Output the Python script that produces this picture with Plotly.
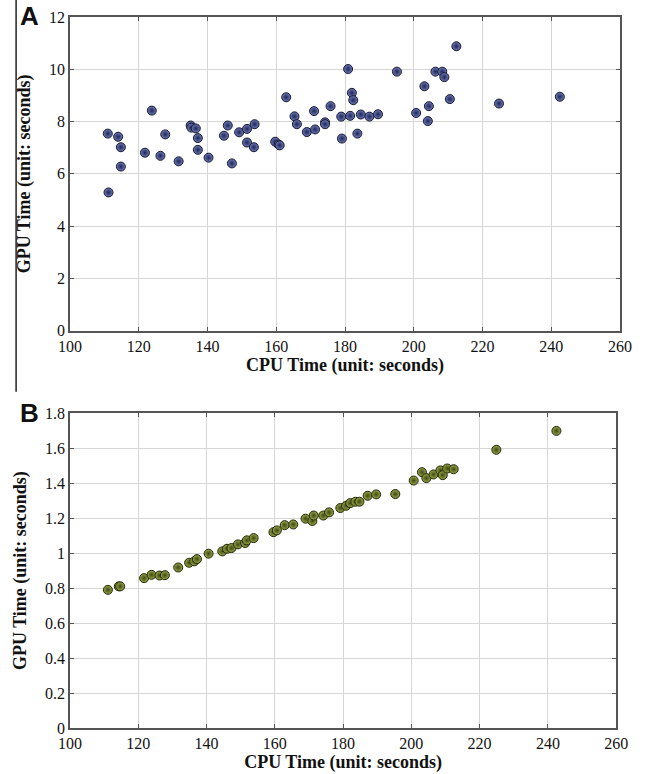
import plotly.graph_objects as go
from plotly.subplots import make_subplots

# panel A: CPU vs GPU time
cpu_a = [111.0, 114.0, 114.8, 114.8, 111.2, 121.8, 123.8, 126.3, 127.7, 131.6,
         135.1, 135.3, 136.6, 137.2, 137.2, 140.3, 144.8, 145.9, 147.1, 149.2,
         151.5, 151.5, 153.5, 153.7, 159.7, 160.7, 161.0, 162.9, 165.3, 166.0,
         168.9, 171.0, 171.3, 174.2, 174.2, 175.8, 178.9, 179.1, 180.9, 181.5,
         182.0, 182.4, 183.6, 184.6, 187.1, 189.6, 195.1, 200.7, 203.1, 204.1,
         204.4, 206.3, 208.3, 208.9, 210.5, 212.4, 224.8, 242.5]
gpu_a = [7.54, 7.42, 7.02, 6.28, 5.29, 6.81, 8.42, 6.69, 7.51, 6.48,
         7.85, 7.77, 7.74, 7.37, 6.92, 6.62, 7.46, 7.85, 6.40, 7.59,
         7.72, 7.20, 7.02, 7.90, 7.23, 7.12, 7.09, 8.93, 8.20, 7.90,
         7.60, 8.40, 7.70, 7.97, 7.90, 8.59, 8.19, 7.35, 10.01, 8.22,
         9.10, 8.82, 7.54, 8.27, 8.19, 8.28, 9.91, 8.33, 9.35, 8.02,
         8.59, 9.91, 9.91, 9.70, 8.86, 10.88, 8.69, 8.95]

# panel B
cpu_b = [111.1, 114.3, 114.7, 121.7, 123.9, 126.2, 127.8, 131.7, 134.9, 136.4,
         137.2, 140.6, 144.6, 146.0, 147.3, 149.2, 151.3, 151.8, 153.8, 159.6,
         160.6, 162.9, 165.4, 169.0, 171.0, 171.4, 174.2, 175.9, 179.2, 180.9,
         182.1, 183.6, 184.8, 187.2, 189.7, 195.3, 200.7, 203.1, 204.4, 206.5,
         208.5, 209.2, 210.5, 212.4, 224.9, 242.5]
gpu_b = [0.790, 0.810, 0.810, 0.857, 0.876, 0.872, 0.874, 0.918, 0.945, 0.953,
         0.966, 0.997, 1.010, 1.025, 1.029, 1.050, 1.058, 1.073, 1.086, 1.120,
         1.130, 1.160, 1.164, 1.197, 1.184, 1.215, 1.215, 1.233, 1.258, 1.271,
         1.286, 1.294, 1.294, 1.328, 1.336, 1.338, 1.415, 1.463, 1.429, 1.450,
         1.473, 1.446, 1.484, 1.480, 1.591, 1.699]

serif = "Liberation Serif, Times New Roman, serif"

fig = make_subplots(rows=2, cols=1)

fig.add_trace(go.Scatter(
    x=cpu_a, y=gpu_a, mode="markers",
    marker=dict(size=9, color="#6e7bb8",
                gradient=dict(type="radial", color="#1f2555"),
                line=dict(color="#161932", width=1)),
    showlegend=False), row=1, col=1)

fig.add_trace(go.Scatter(
    x=cpu_b, y=gpu_b, mode="markers",
    marker=dict(size=9, color="#98a848",
                gradient=dict(type="radial", color="#3e4712"),
                line=dict(color="#22260a", width=1)),
    showlegend=False), row=2, col=1)

axis_style = dict(
    showgrid=True, gridcolor="#d6d6d6", gridwidth=1,
    showline=True, linecolor="#555555", linewidth=1.5, mirror="ticks",
    ticks="inside", ticklen=4, tickcolor="#555555",
    tickfont=dict(family=serif, size=16, color="#111"),
    zeroline=False, automargin=False,
)
title_font = dict(family=serif, size=18, color="#111")

fig.update_xaxes(axis_style)
fig.update_yaxes(axis_style)

fig.update_xaxes(range=[100, 260], dtick=20, domain=[0, 1],
                 title=dict(text="<b>CPU Time (unit: seconds)</b>", font=title_font, standoff=3),
                 row=1, col=1)
fig.update_xaxes(range=[100, 260], dtick=20, domain=[0, 0.993],
                 title=dict(text="<b>CPU Time (unit: seconds)</b>", font=title_font, standoff=3),
                 row=2, col=1)
fig.update_yaxes(range=[0, 12], dtick=2, domain=[0.5587, 1.0],
                 title=dict(text="<b>GPU Time (unit: seconds)</b>", font=title_font, standoff=14),
                 row=1, col=1)
fig.update_yaxes(range=[0, 1.8], dtick=0.2, domain=[0, 0.4427],
                 title=dict(text="<b>GPU Time (unit: seconds)</b>", font=title_font, standoff=14),
                 row=2, col=1)

# panel letters
fig.add_annotation(text="<b>A</b>", xref="paper", yref="paper", x=-0.094, y=1.025,
                   xanchor="left", yanchor="top", showarrow=False,
                   font=dict(family="Liberation Sans, Arial, sans-serif", size=26, color="#111"))
fig.add_annotation(text="<b>B</b>", xref="paper", yref="paper", x=-0.094, y=0.467,
                   xanchor="left", yanchor="top", showarrow=False,
                   font=dict(family="Liberation Sans, Arial, sans-serif", size=26, color="#111"))

# vertical rule on the left of panel A
fig.add_shape(type="line", xref="paper", yref="paper", x0=-0.098, x1=-0.098,
              y0=0.473, y1=1.03, line=dict(color="#222", width=1.5))

fig.update_layout(
    width=646, height=774,
    margin=dict(l=70, r=26, t=17, b=46),
    plot_bgcolor="white", paper_bgcolor="white",
)

# drop the default page margin so the figure sits at the window's corner
fig.write_html("out.html", config={"displayModeBar": False},
               post_script="document.body.style.margin='0';")
